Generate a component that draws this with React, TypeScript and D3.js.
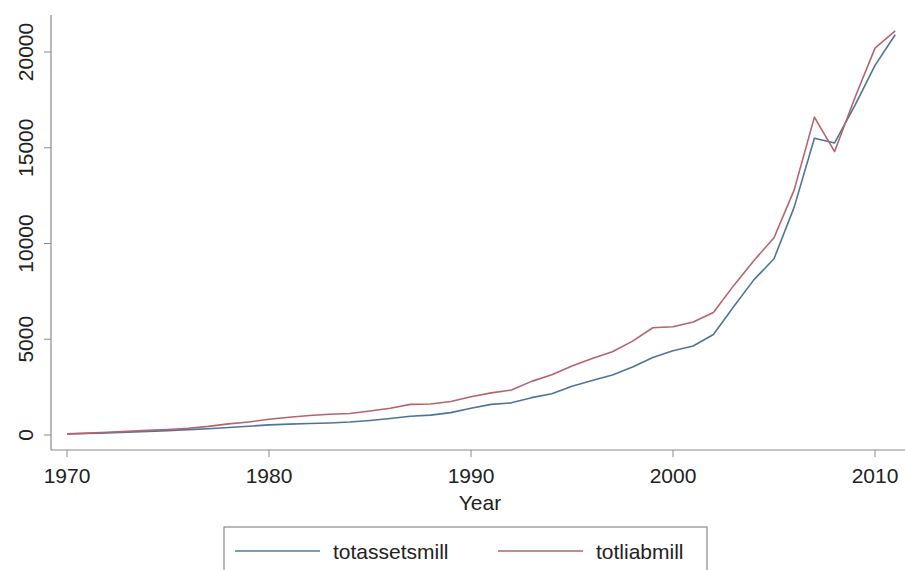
import React from "react";
import * as d3 from "d3";

const years: number[] = d3.range(1970, 2012);
const totassetsmill: number[] = [
  50, 80, 110, 150, 190, 230, 280, 330, 390, 460,
  530, 570, 600, 630, 680, 760, 860, 980, 1040, 1170,
  1400, 1600, 1680, 1950, 2150, 2550, 2850, 3130, 3550, 4050,
  4400, 4650, 5250, 6700, 8100, 9200, 11900, 15500, 15250, 17200,
  19300, 20900,
];
const totliabmill: number[] = [
  60, 100, 140, 190, 240, 290, 350, 450, 580, 680,
  820, 930, 1020, 1080, 1120, 1250, 1400, 1600, 1620, 1750,
  2000, 2200, 2350, 2800, 3150, 3600, 4000, 4350, 4900, 5600,
  5650, 5900, 6400, 7800, 9100, 10300, 12800, 16600, 14800, 17600,
  20200, 21100,
];
const xTicks: number[] = [1970, 1980, 1990, 2000, 2010];
const yTicks: number[] = [0, 5000, 10000, 15000, 20000];
const seriesNames: string[] = ["totassetsmill", "totliabmill"];
const colors: string[] = ["#4f7499", "#b3646c"];
const legendColors: string[] = ["#7d9bbb", "#c48a90"];

const W = 905;
const H = 570;
const FONT = "'Liberation Sans', Arial, Helvetica, sans-serif";

export default function App() {
  const x = d3.scaleLinear().domain([1970, 2010]).range([67, 875]);
  const y = d3.scaleLinear().domain([0, 20000]).range([435, 52]);
  const axisLeft = 51;
  const axisBottom = 450;
  const axisTop = 15;
  const axisRight = 905;

  const line = d3
    .line<[number, number]>()
    .x((d) => x(d[0]))
    .y((d) => y(d[1]));

  const series = [totassetsmill, totliabmill].map((vals) =>
    years.map((yr, i) => [yr, vals[i]] as [number, number])
  );

  return (
    <svg
      width={W}
      height={H}
      style={{ position: "absolute", left: 0, top: 0, background: "#fff" }}
      fontFamily={FONT}
    >
      <rect x={0} y={0} width={W} height={H} fill="#fff" />
      {/* axes */}
      <line x1={axisLeft} x2={axisLeft} y1={axisTop} y2={axisBottom} stroke="#8a8a8a" strokeWidth={1.2} />
      <line x1={axisLeft} x2={axisRight} y1={axisBottom} y2={axisBottom} stroke="#8a8a8a" strokeWidth={1.2} />
      {yTicks.map((t) => (
        <g key={"y" + t}>
          <line x1={axisLeft - 7} x2={axisLeft} y1={y(t)} y2={y(t)} stroke="#8a8a8a" strokeWidth={1} />
          <text
            transform={`translate(${33},${y(t)}) rotate(-90)`}
            textAnchor="middle"
            fontSize={21}
            fill="#222"
          >
            {t}
          </text>
        </g>
      ))}
      {xTicks.map((t) => (
        <g key={"x" + t}>
          <line x1={x(t)} x2={x(t)} y1={axisBottom} y2={axisBottom + 7} stroke="#8a8a8a" strokeWidth={1} />
          <text x={x(t)} y={483} textAnchor="middle" fontSize={21} fill="#222">
            {t}
          </text>
        </g>
      ))}
      <text x={(axisLeft + axisRight) / 2 + 2} y={510} textAnchor="middle" fontSize={21} fill="#222">
        Year
      </text>
      {/* lines */}
      {series.map((s, i) => (
        <path key={i} d={line(s) || ""} fill="none" stroke={colors[i]} strokeWidth={1.6} strokeLinejoin="round" />
      ))}
      {/* legend */}
      <rect x={224} y={527} width={483} height={60} fill="#fff" stroke="#8a8a8a" strokeWidth={1.2} />
      {seriesNames.map((name, i) => {
        const lx = i === 0 ? 235 : 498;
        return (
          <g key={name}>
            <line x1={lx} x2={lx + 85} y1={551} y2={551} stroke={legendColors[i]} strokeWidth={2.2} />
            <text x={lx + 98} y={559} fontSize={21} fill="#222">
              {name}
            </text>
          </g>
        );
      })}
    </svg>
  );
}
